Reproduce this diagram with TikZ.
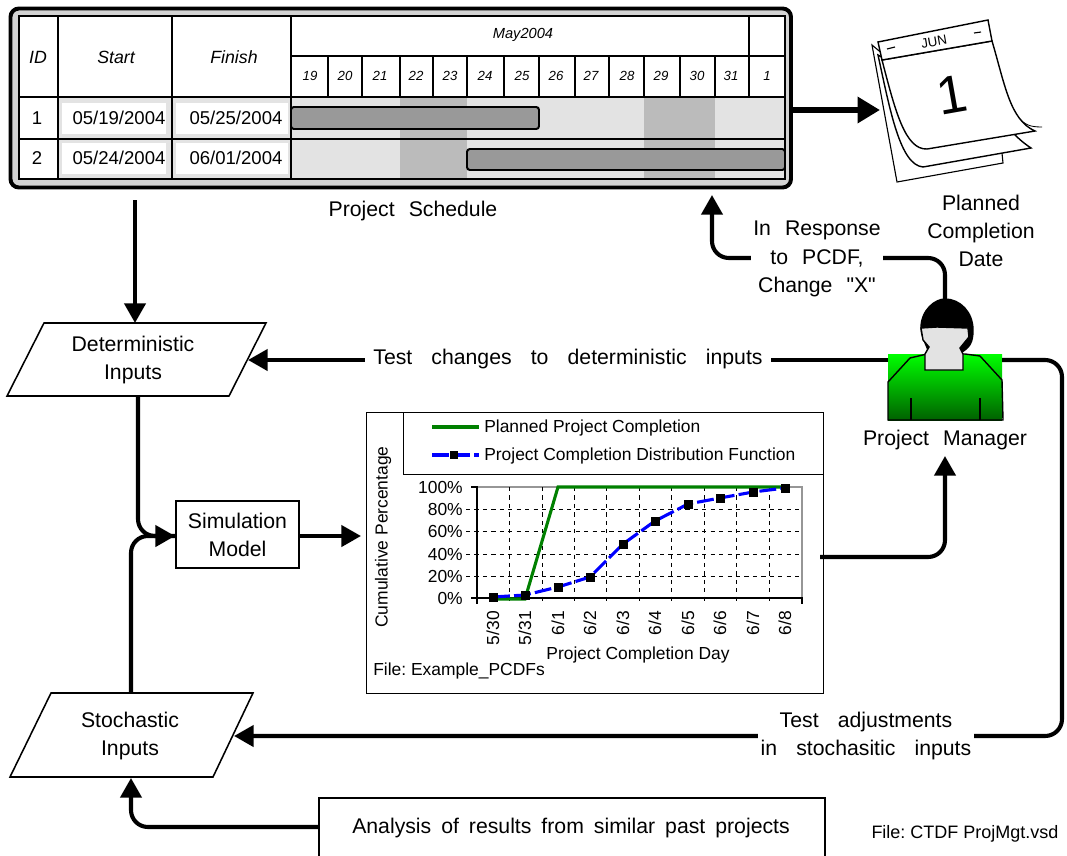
\documentclass[tikz,border=0pt]{standalone}
\usepackage{fontspec}
\setmainfont{Liberation Sans}
\newfontfamily\qfont{Liberation Sans}
\usepackage{xcolor}
\usetikzlibrary{arrows.meta}
\frenchspacing
\definecolor{lightgr}{HTML}{E3E3E3}
\definecolor{midgr}{HTML}{BBBBBB}
\definecolor{bargr}{HTML}{999999}
\definecolor{plangreen}{HTML}{008000}
\newcommand{\widewords}{\spaceskip .66em\relax}
\newcommand{\widerwords}{\spaceskip .9em\relax}
\newcommand{\tightwords}{\spaceskip .47em\relax}
\tikzset{
  lab/.style={font=\fontsize{15.1pt}{20pt}\selectfont\widewords, align=center, inner sep=1pt},
  labwide/.style={font=\fontsize{15.1pt}{20pt}\selectfont\widerwords, align=center, fill=white, inner ysep=1pt, inner xsep=2pt},
  labfill/.style={lab, fill=white, inner xsep=2pt},
  cell/.style={font=\fontsize{13.2pt}{15pt}\selectfont, inner sep=0pt},
  headcell/.style={font=\fontsize{12.6pt}{15pt}\itshape\selectfont, inner sep=0pt},
  daycell/.style={font=\fontsize{9.4pt}{12pt}\itshape\selectfont, inner sep=0pt},
  chartlab/.style={font=\fontsize{12.4pt}{13pt}\selectfont, inner sep=0pt},
  flow/.style={line width=2.9pt, rounded corners=12pt, -{Triangle[length=14pt,width=15pt]}},
  plain flow/.style={line width=2.9pt, rounded corners=12pt},
}
\begin{document}
\begin{tikzpicture}[x=0.025cm, y=-0.025cm]
\useasboundingbox (0,0) rectangle (1067,856);

% schedule frame
\draw[line width=2.8pt, rounded corners=6pt, fill=lightgr!93!black] (10.5,8.5) rectangle (791,187.5);
\fill[white] (19,16) rectangle (785,179);
\fill[lightgr] (291,97) rectangle (785,179);
\fill[midgr] (400,97) rectangle (467,179);
\fill[midgr] (644,97) rectangle (715,179);
\fill[lightgr] (58,97) rectangle (291,179);
\foreach \xa/\xb in {62/166,176/288} {
  \fill[white] (\xa,103) rectangle (\xb,134);
  \fill[white] (\xa,143) rectangle (\xb,174);
}
% bars
\draw[line width=1.4pt, rounded corners=2pt, fill=bargr] (291,107) rectangle (539,129);
\draw[line width=1.4pt, rounded corners=2pt, fill=bargr] (467,149) rectangle (785,170);
% table lines
\draw[line width=1.4pt] (19,16) rectangle (785,179);
\draw[line width=1.4pt] (19,97) -- (785,97) (19,139) -- (785,139);
\draw[line width=1.4pt] (291,56) -- (785,56) (749,16) -- (749,56);
\foreach \x in {58,172,291} \draw[line width=1.4pt] (\x,16) -- (\x,179);
\foreach \x in {328,362,400,433,467,504,539,575,609,644,680,715,749} \draw[line width=1.1pt] (\x,56) -- (\x,97);

\node[headcell] (hid) at (38,57) {ID};
\node[headcell] (hstart) at (116,57) {Start};
\node[headcell] (hfinish) at (234,57) {Finish};
\node[daycell, font=\fontsize{10.4pt}{12pt}\itshape\selectfont] (hmonth) at (523,35) {May2004};
\foreach \x/\d in {310/19,345/20,380/21,416/22,450/23,485/24,522/25,556/26,591/27,627/28,661/29,697/30,731/31,767/1}
  \node[daycell] (d\d) at (\x,76) {\d};
\node[cell] (ida) at (37,118) {1};
\node[cell] (idb) at (37,158) {2};
\node[cell] (sa) at (119,118) {05/19/2004};
\node[cell] (fa) at (236,118) {05/25/2004};
\node[cell] (sb) at (119,158) {05/24/2004};
\node[cell] (fb) at (236,158) {06/01/2004};
\node[lab] (sched) at (413,211) {Project Schedule};

% calendar
\draw[line width=.8pt, fill=white] (872,45) -- (897,182) -- (1003,163) -- (1002,153) -- cycle;
\draw[line width=1pt, fill=white] (878,55) .. controls (890,110) and (900,165) .. (923,167) -- (1031,148) .. controls (1022,142) and (1018,138) .. (1010,130) -- cycle;
\draw[line width=.6pt] (1018,117) .. controls (1025,125) and (1030,127) .. (1042,127);
\draw[line width=1pt, fill=white] (882,60) .. controls (895,110) and (905,150) .. (927,149) -- (1035,131) .. controls (1010,120) and (1005,85) .. (992,41) -- cycle;
\draw[line width=1pt, fill=white] (878,42) -- (988,20) -- (992,41) -- (882,60) -- cycle;
\draw[line width=.8pt] (887,49) -- (895,47) (974,33) -- (981,32);
\node[font=\fontsize{9.5pt}{11pt}\selectfont, rotate=10, inner sep=0pt] (calmonth) at (934,42) {JUN};
\node[font=\fontsize{38pt}{44pt}\selectfont, rotate=10, inner sep=0pt] (calday) at (952,95) {1};
\coordinate (calw) at (880,110);
\coordinate (framee) at (790,110);
\draw[line width=4.4pt, -{Triangle[length=16pt,width=18pt]}] (framee) -- (calw);
\node[lab] (plandate) at (981,231) {Planned\\Completion\\Date};

% project manager
\shade[top color=green, middle color=green!78!black, bottom color=green!38!black] (888,354) rectangle (1002,420);
\draw[line width=1pt] (888,382) -- (910,358) -- (927,354) -- (965,354) -- (980,356) -- (1002,380) -- (1003,420) -- (888,420) -- cycle;
\draw[line width=1pt] (911,398) -- (911,420) (980,398) -- (980,420);
\draw[line width=1pt, fill=black] (921,328) .. controls (921,310) and (935,299) .. (945,299) .. controls (960,299) and (973,312) .. (973,330) .. controls (973,342) and (970,348) .. (960,353) -- (928,350) .. controls (924,340) and (921,335) .. (921,328) -- cycle;
\draw[line width=1pt, fill=lightgr] (921,328) -- (937,327) -- (968,328) -- (969,337) -- (960,348) -- (963,354) -- (963,370) -- (925,370) -- (925,354) -- (929,347) -- (923,340) -- cycle;
\node[lab] (mgrlab) at (945,440) {Project Manager};
\coordinate (mgrn) at (945,299);
\coordinate (mgrw) at (888,360);
\coordinate (mgre) at (1002,360);
\coordinate (mgrs) at (945,456);

% input shapes
\draw[line width=1.1pt] (7,396) -- (44,323) -- (266,323) -- (229,396) -- cycle;
\node[lab] (detin) at (133,360) {Deterministic\\Inputs};
\coordinate (detn) at (135,323);
\coordinate (dets) at (138,396);
\coordinate (dete) at (248,360);
\draw[line width=1.1pt] (10,777) -- (51,693) -- (253,693) -- (213,777) -- cycle;
\node[lab] (stoin) at (130,736) {Stochastic\\Inputs};
\coordinate (ston) at (131,693);
\coordinate (stos) at (131,778);
\coordinate (stoe) at (234,736);

\node[draw, line width=1.1pt, minimum width=87.5pt, minimum height=47.6pt, inner sep=0pt, lab] (simbox) at (237.5,534.5) {Simulation\\Model};
\coordinate (simw) at (175,536);
\coordinate (sime) at (299,536);
\node[draw, line width=1.1pt, anchor=north west, minimum width=360pt, minimum height=57pt] (pastbox) at (318,797) {};
\node[lab, font=\fontsize{15.1pt}{20pt}\selectfont\tightwords] (pastlab) at (571,828) {Analysis of results from similar past projects};
\coordinate (pastw) at (318,827);
\node[font=\fontsize{12.8pt}{13pt}\selectfont, inner sep=0pt] (filelab) at (965,834) {File: CTDF ProjMgt.vsd};

% chart
\draw[line width=.7pt] (366,412) rectangle (823,693);
\draw[line width=.7pt] (403,412) -- (403,474) -- (823,474);
\coordinate (charte) at (820,557);
\coordinate (chartw) at (361,536);
\draw[plangreen, line width=2.2pt] (432,427) -- (479,427);
\draw[blue, line width=2.2pt, dash pattern=on 12pt off 3pt] (432,455) -- (479,455);
\fill (454,455) +(-4,-4) rectangle +(4,4);
\node[chartlab, anchor=west] (legplan) at (484,428) {Planned Project Completion};
\node[chartlab, anchor=west] (legpcdf) at (484,456) {Project Completion Distribution Function};
\draw[midgr!80!black, line width=1pt] (477,487) -- (802,487) -- (802,598);
\foreach \y in {509,531,554,576} \draw[dashed, line width=.6pt] (466,\y) -- (802,\y);
\foreach \x in {509.5,542,574.4,606.8,639.3,671.7,704.2,736.6,769.1} \draw[dashed, line width=.5pt] (\x,487) -- (\x,604);
\draw[line width=1pt] (471,487) -- (477,487) -- (477,604) (471,598) -- (802,598) -- (802,604);
\foreach \y/\p in {487/100,509/80,531/60,554/40,576/20,598/0}
  \node[chartlab, anchor=east] (p\p) at (463,\y) {\p\%};
\foreach \x/\d/\n in {493/5\slash 30/a,525/5\slash 31/b,558/6\slash 1/c,590/6\slash 2/d,623/6\slash 3/e,655/6\slash 4/f,688/6\slash 5/g,720/6\slash 6/h,753/6\slash 7/i,785/6\slash 8/j}
  \node[chartlab, rotate=90, anchor=east] (t\n) at (\x,611) {\d};
\node[chartlab, rotate=90] (yaxis) at (383,537) {Cumulative Percentage};
\node[chartlab] (xaxis) at (638,655) {Project Completion Day};
\node[chartlab, anchor=west] (chartfile) at (373,671) {File: Example\_PCDFs};
\draw[plangreen, line width=2.2pt] (493,599) -- (525,599) -- (558,487) -- (785,487);
\draw[blue, line width=2.2pt, dash pattern=on 12pt off 3pt] (493,597) -- (525,595) -- (558,587) -- (590,577) -- (623,544) -- (655,521) -- (688,504) -- (720,498) -- (753,492) -- (785,488);
\foreach \x/\y in {493/597,525/595,558/587,590/577,623/544,655/521,688/504,720/498,753/492,785/488}
  \fill (\x,\y) +(-4.5,-4.5) rectangle +(4.5,4.5);

% connectors
\coordinate (frames) at (135,200);
\coordinate (frameb) at (712,195);
\draw[flow] (frames) -- (detn);
\draw[plain flow] (dets) -- (138,536) -- (simw);
\draw[flow] (ston) -- (131,536) -- (simw);
\draw[flow] (sime) -- (chartw);
\draw[flow] (charte) -- (945,557) -- (mgrs);
\draw[flow] (mgrw) -- (dete);
\draw[flow] (mgrn) -- (945,258) -- (712,258) -- (frameb);
\draw[flow] (mgre) -- (1062,360) -- (1062,736) -- (stoe);
\draw[flow] (pastw) -- (131,827) -- (stos);

\node[labwide, inner xsep=6pt] (testdet) at (568,359) {Test changes to deterministic inputs};
\node[labfill] (respx) at (817,259) {In Response\\to PCDF,\\Change {\qfont"}X{\qfont"}};
\node[labwide] (teststo) at (866,736) {Test adjustments\\in stochasitic inputs};
\end{tikzpicture}
\end{document}
